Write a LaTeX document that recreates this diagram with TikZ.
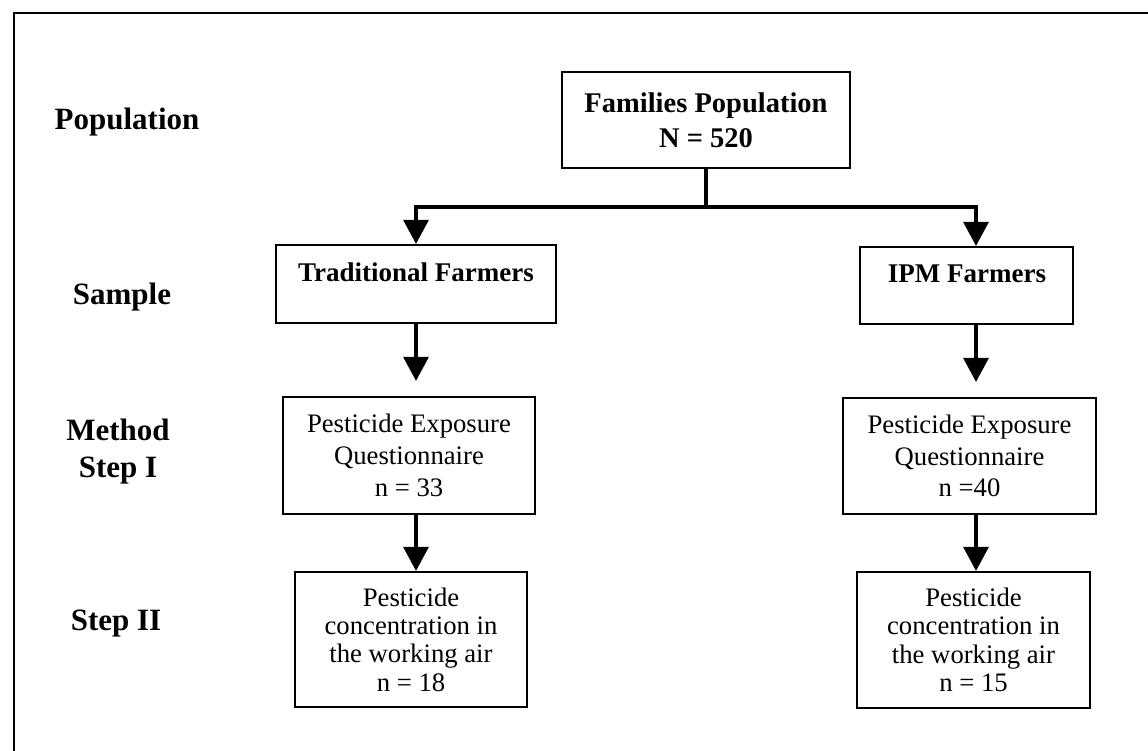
\documentclass[tikz,border=0pt]{standalone}
\usepackage{fontspec}
\setmainfont{Liberation Serif}
\usetikzlibrary{arrows.meta}
\tikzset{
  box/.style={draw, line width=2.2pt, inner sep=0pt, align=center},
  boldtxt/.style={font=\fontsize{27}{32}\selectfont\bfseries},
  regtxt/.style={font=\fontsize{26.7}{31.7}\selectfont},
  regtxtb/.style={font=\fontsize{26.7}{28.3}\selectfont},
  lab/.style={font=\fontsize{31}{37}\selectfont\bfseries, align=center},
  arr/.style={line width=3.2pt, -{Triangle[width=25pt,length=24pt]}},
  conn/.style={line width=3.2pt},
  frame/.style={line width=2.4pt}
}
\begin{document}
\begin{tikzpicture}[x=1pt,y=-1pt]
\useasboundingbox (0,0) rectangle (1148,751);
\draw[frame] (14,751) -- (14,13) -- (1148,13);

% left labels
\node[lab, anchor=base] (lpop) at (127,130) {Population};
\node[lab, anchor=base] (lsam) at (122,304) {Sample};
\node[lab] (lmeth) at (118,452) {Method\\Step I};
\node[lab, anchor=base] (lstep) at (116,630) {Step II};

% boxes
\node[box, minimum width=288pt, minimum height=96pt, font=\fontsize{28.5}{35}\selectfont\bfseries] (fam) at (706,120) {Families Population\\N = 520};

\node[box, minimum width=280pt, minimum height=78pt] (trad) at (416,284) {};
\node[boldtxt, anchor=base] (tradt) at (416,282) {Traditional Farmers};
\node[box, minimum width=213pt, minimum height=77pt] (ipm) at (966.5,285.5) {};
\node[boldtxt, anchor=base] (ipmt) at (967,282.5) {IPM Farmers};

\node[box, regtxt, minimum width=252pt, minimum height=117pt] (tradm) at (409,455.5) {Pesticide Exposure\\Questionnaire\\n = 33};
\node[box, regtxt, minimum width=253pt, minimum height=116pt] (ipmm) at (969.5,456) {Pesticide Exposure\\Questionnaire\\n =40};

\node[box, regtxtb, minimum width=232pt, minimum height=135pt] (trads) at (411,639.5) {Pesticide\\concentration in\\the working air\\n = 18};
\node[box, regtxtb, minimum width=233pt, minimum height=136pt] (ipms) at (973.5,640) {Pesticide\\concentration in\\the working air\\n = 15};

% connectors
\coordinate (xl) at (416,0);
\coordinate (xr) at (976,0);
\draw[conn] (fam.south) -- ++(0,38) coordinate (j);
\draw[arr] (j) -| (trad.north -| xl);
\draw[arr] (j) -| (ipm.north -| xr);
\draw[arr, shorten >=15pt] (trad.south -| xl) -- (tradm.north -| xl);
\draw[arr, shorten >=15pt] (ipm.south -| xr) -- (ipmm.north -| xr);
\draw[arr] (tradm.south -| xl) -- (trads.north -| xl);
\draw[arr] (ipmm.south -| xr) -- (ipms.north -| xr);
\end{tikzpicture}
\end{document}
